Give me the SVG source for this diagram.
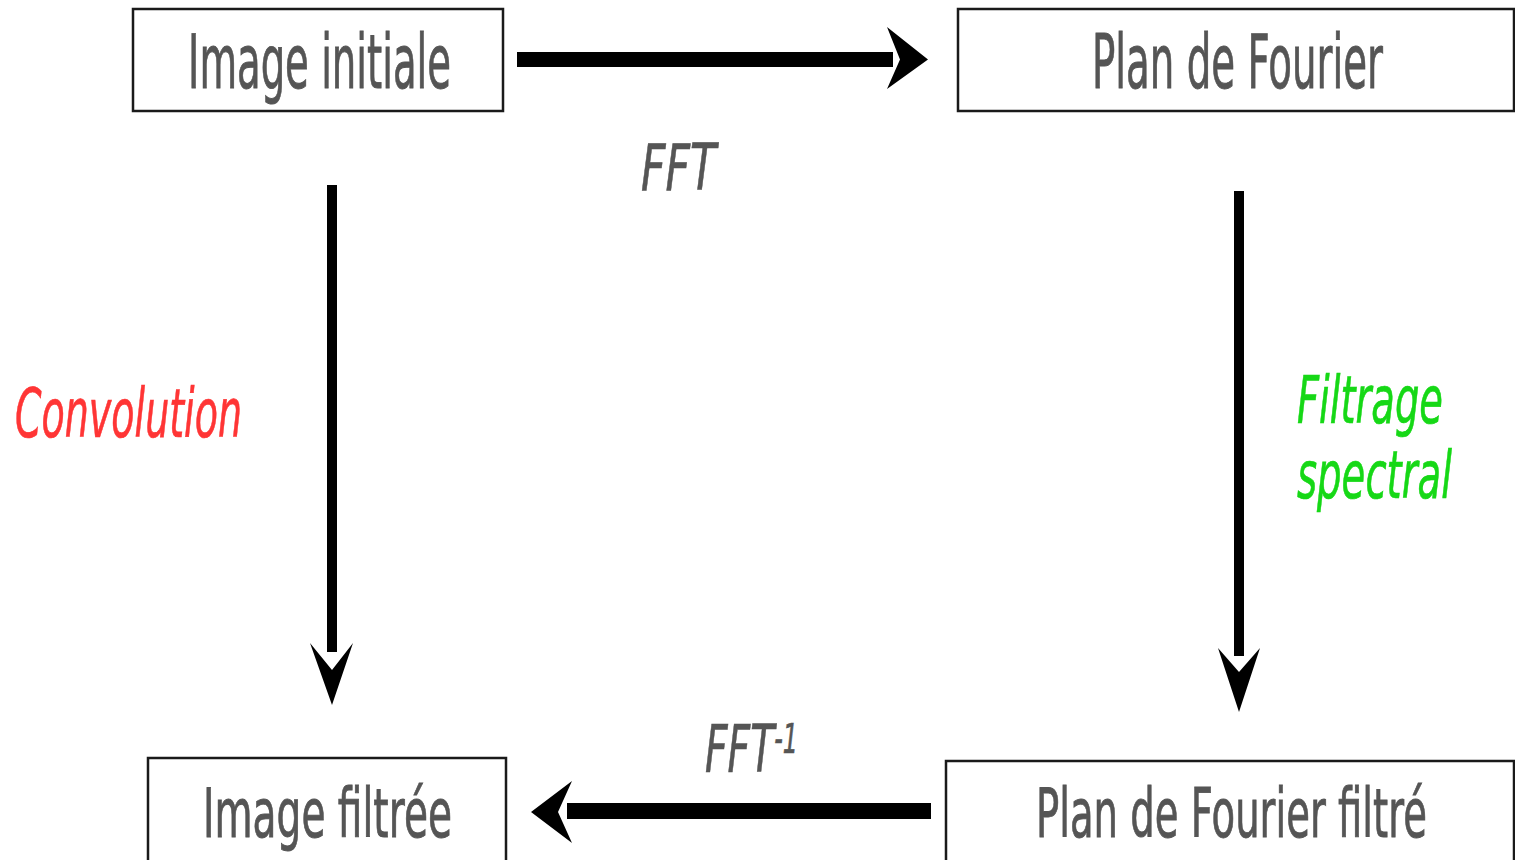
<svg xmlns="http://www.w3.org/2000/svg" width="1515" height="860" viewBox="0 0 1515 860">
  <style>
    .box { fill: #ffffff; stroke: #1a1a1a; stroke-width: 2.5; }
    .lbl { font-family: "DejaVu Sans", Verdana, sans-serif; fill: #555555; stroke: #555555; stroke-width: 0.9; }
    .op { font-family: "DejaVu Sans", Verdana, sans-serif; font-style: italic; stroke-width: 0.7; }
    .shaft { stroke: #000000; fill: none; }
    .head { fill: #000000; }
  </style>
  <rect width="1515" height="860" fill="#ffffff"/>

  <!-- nodes: labels are set in a narrow face, squeezed horizontally -->
  <g id="image-initiale">
    <rect class="box" x="133" y="9" width="370" height="102"/>
    <text class="lbl" transform="translate(188,88) scale(0.515,1)" font-size="75" textLength="510.7" lengthAdjust="spacingAndGlyphs">Image initiale</text>
  </g>
  <g id="plan-fourier">
    <rect class="box" x="958" y="9" width="556" height="102"/>
    <text class="lbl" transform="translate(1092,88) scale(0.515,1)" font-size="75" textLength="565" lengthAdjust="spacingAndGlyphs">Plan de Fourier</text>
  </g>
  <g id="image-filtree">
    <rect class="box" x="148" y="758" width="358" height="110"/>
    <text class="lbl" transform="translate(203,837) scale(0.515,1)" font-size="68" textLength="483.5" lengthAdjust="spacingAndGlyphs">Image filtrée</text>
  </g>
  <g id="plan-fourier-filtre">
    <rect class="box" x="946" y="761" width="568" height="110"/>
    <text class="lbl" transform="translate(1036,837) scale(0.515,1)" font-size="68" textLength="759" lengthAdjust="spacingAndGlyphs">Plan de Fourier filtré</text>
  </g>

  <!-- connectors -->
  <g id="connectors">
    <!-- FFT -->
    <line class="shaft" x1="517" y1="59.5" x2="893" y2="59.5" stroke-width="15"/>
    <polygon class="head" points="928,59.5 887,27 900,59.5 887,89"/>
    <!-- inverse FFT -->
    <line class="shaft" x1="931" y1="811" x2="567" y2="811" stroke-width="16"/>
    <polygon class="head" points="531,812 572,781 558,812 572,843"/>
    <!-- convolution -->
    <line class="shaft" x1="332" y1="185" x2="332" y2="652" stroke-width="10"/>
    <polygon class="head" points="332,705 310,643 332,670 353,643"/>
    <!-- spectral filtering -->
    <line class="shaft" x1="1239" y1="191" x2="1239" y2="656" stroke-width="10"/>
    <polygon class="head" points="1239,712 1218,648 1239,672 1260,648"/>
  </g>

  <!-- operation labels -->
  <g id="labels">
    <text class="op" transform="translate(641,190) scale(0.515,1)" font-size="64" fill="#555555" stroke="#555555" textLength="145.6" lengthAdjust="spacingAndGlyphs">FFT</text>
    <text class="op" transform="translate(705,772) scale(0.515,1)" font-size="66" fill="#555555" stroke="#555555" textLength="180.6" lengthAdjust="spacingAndGlyphs">FFT<tspan font-size="40" dy="-19">-1</tspan></text>
    <text class="op" transform="translate(15,437) scale(0.515,1)" font-size="67" fill="#ff3535" stroke="#ff3535" textLength="440.8" lengthAdjust="spacingAndGlyphs">Convolution</text>
    <text class="op" transform="translate(1297,423) scale(0.515,1)" font-size="66" fill="#16d816" stroke="#16d816" textLength="283.5" lengthAdjust="spacingAndGlyphs">Filtrage</text>
    <text class="op" transform="translate(1297,498) scale(0.515,1)" font-size="66" fill="#16d816" stroke="#16d816" textLength="301" lengthAdjust="spacingAndGlyphs">spectral</text>
  </g>
</svg>
